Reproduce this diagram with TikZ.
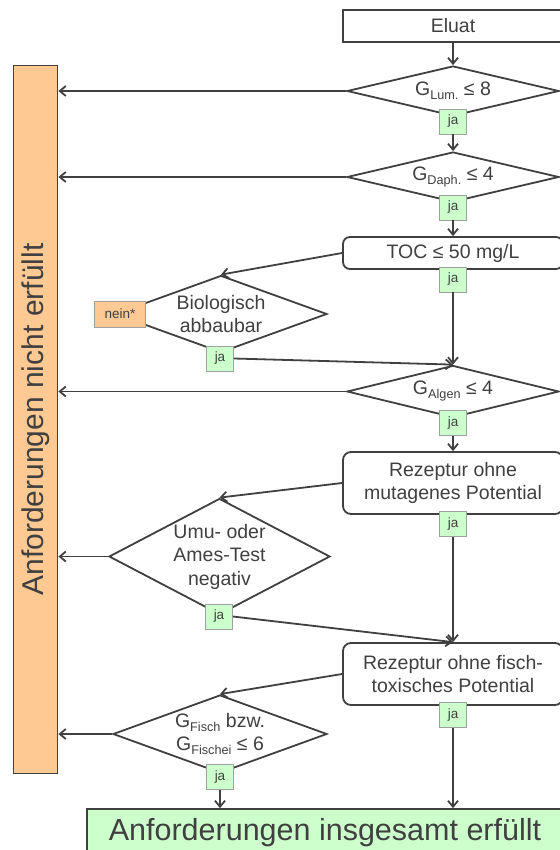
\documentclass[tikz,border=0pt]{standalone}
\usepackage{fontspec}
\setmainfont{Liberation Sans}
\usetikzlibrary{shapes.geometric,arrows.meta}

\definecolor{lineGray}{HTML}{404040}
\definecolor{textGray}{HTML}{404040}
\definecolor{noFill}{HTML}{FFC993}
\definecolor{yesFill}{HTML}{CCFFCC}
\definecolor{tagEdge}{HTML}{A0A0A0}

\newcommand{\subtxt}[1]{\raisebox{-4pt}{\fontsize{12.7}{14}\selectfont #1}}

\tikzset{
  flow/.style={draw=lineGray, line width=1.8pt, -{Straight Barb[length=6pt,width=10pt]}},
  stepbox/.style={draw=lineGray, line width=1.8pt, fill=white, inner sep=0pt,
    minimum width=220pt, text=textGray, align=center,
    font=\fontsize{19.5}{23.5}\selectfont},
  decision/.style={diamond, draw=lineGray, line width=1.8pt, fill=white, inner sep=0pt,
    text=textGray, align=center, font=\fontsize{19.5}{23.5}\selectfont},
  jatag/.style={draw=tagEdge, line width=0.8pt, fill=yesFill, inner sep=0pt,
    minimum width=27pt, minimum height=25pt, text=textGray,
    font=\fontsize{13.5}{15}\selectfont},
}

\begin{document}
\begin{tikzpicture}[x=1pt,y=-1pt]
  \useasboundingbox (0,0) rectangle (559,850);

  \node[draw=lineGray, line width=1.8pt, fill=noFill, minimum width=44pt, minimum height=708pt,
    inner sep=0pt, text=textGray, font=\fontsize{30}{36}\selectfont] (fail) at (35.5,419.5)
    {\rotatebox{90}{Anforderungen nicht erfüllt}};

  \node[stepbox, minimum height=32pt] (eluat) at (453,26) {Eluat};
  \node[decision, aspect=4.2, minimum width=212pt, minimum height=50pt] (glum) at (453,91) {G\subtxt{Lum.} ≤ 8};
  \node[jatag] (ja1) at (453,121.5) {ja};
  \node[decision, aspect=4.2, minimum width=212pt, minimum height=50pt] (gdaph) at (453,177) {G\subtxt{Daph.} ≤ 4};
  \node[jatag] (ja2) at (453,207.5) {ja};
  \node[stepbox, rounded corners=7pt, minimum height=32pt] (toc) at (453,253) {TOC ≤ 50 mg/L};
  \node[jatag] (ja3) at (453,279.5) {ja};

  \node[decision, aspect=2.75, minimum width=212pt, minimum height=77pt] (bio) at (221,314) {Biologisch\\abbaubar};
  \node[jatag, fill=noFill, minimum width=51.5pt, minimum height=26pt] (nein) at (120,314) {nein*};
  \node[jatag] (ja4) at (220,358.5) {ja};

  \node[decision, aspect=4.2, minimum width=212pt, minimum height=52pt] (galgen) at (453,391.5) {G\subtxt{Algen} ≤ 4};
  \node[jatag] (ja5) at (453,423) {ja};
  \node[stepbox, rounded corners=8pt, minimum height=62pt] (rezmut) at (453,483) {Rezeptur ohne\\mutagenes Potential};
  \node[jatag] (ja6) at (453,524) {ja};

  \node[decision, aspect=1.9, minimum width=221pt, minimum height=116pt] (umu) at (219.5,556.5) {Umu- oder\\Ames-Test\\negativ};
  \node[jatag] (ja7) at (219,616.5) {ja};

  \node[stepbox, rounded corners=8pt, minimum height=62pt] (rezfisch) at (453,674) {Rezeptur ohne fisch-\\toxisches Potential};
  \node[jatag] (ja8) at (453,715) {ja};
  \node[decision, aspect=2.74, minimum width=214pt, minimum height=78pt] (gfisch) at (220,734) {G\subtxt{Fisch} bzw.\\G\subtxt{Fischei} ≤ 6};
  \node[jatag] (ja9) at (220,777) {ja};

  \node[draw=lineGray, line width=1.8pt, fill=yesFill, minimum width=476pt, minimum height=48pt,
    inner sep=0pt, text=textGray, font=\fontsize{30.5}{36}\selectfont] (pass) at (325,833)
    {Anforderungen insgesamt erfüllt};

  % main column
  \draw[flow] (eluat) -- (glum.north);
  \draw[flow] (ja1) -- (gdaph.north);
  \draw[flow] (ja2) -- (toc);
  \draw[flow] (ja3) -- (galgen.north);
  \draw[flow] (ja5) -- (rezmut);
  \draw[flow] (ja6) -- (rezfisch);
  \draw[flow] (ja8.south) -- (ja8.south |- pass.north);

  % side branches
  \draw[flow] (toc.west) -- (bio.north);
  \draw[flow] (ja4.east) -- (galgen.north);
  \draw[flow] (rezmut.west) -- (umu.north);
  \draw[flow] (ja7.east) -- (rezfisch.north);
  \draw[flow] (rezfisch.west) -- (gfisch.north);
  \draw[flow] (ja9.south) -- (ja9.south |- pass.north);

  % no: to the left bar
  \foreach \d in {glum,gdaph,galgen,umu,gfisch}
    \draw[flow] (\d.west) -- (\d.west -| fail.east);
\end{tikzpicture}
\end{document}
